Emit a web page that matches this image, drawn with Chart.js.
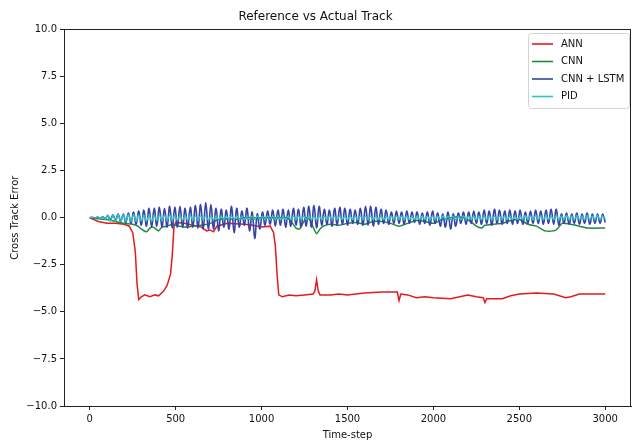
<!DOCTYPE html>
<html>
<head>
<meta charset="utf-8">
<script src="https://cdn.jsdelivr.net/npm/chart.js@4.4.1/dist/chart.umd.min.js"></script>
<style>
  html, body { margin: 0; padding: 0; background: #fff; }
  #wrap { width: 632px; height: 442px; }
</style>
</head>
<body>
<div id="wrap"><canvas id="trackChart" width="632" height="442"></canvas></div>
<script>
// values
const xTicks = [0, 500, 1000, 1500, 2000, 2500, 3000];
const yTicks = [-10, -7.5, -5, -2.5, 0, 2.5, 5, 7.5, 10];

const annSteps = [0,50,100,150,200,230,250,265,275,285,300,320,350,380,400,430,450,470,480,490,500,550,600,650,680,700,720,740,800,900,950,1000,1050,1070,1080,1090,1100,1120,1160,1200,1250,1300,1310,1320,1330,1340,1400,1450,1500,1600,1700,1790,1800,1810,1850,1900,1950,2000,2100,2200,2250,2290,2300,2310,2400,2450,2500,2600,2700,2770,2800,2850,2900,3000];
const annValues = [0,-0.2,-0.3,-0.3,-0.35,-0.45,-0.8,-1.8,-3.5,-4.35,-4.2,-4.1,-4.2,-4.1,-4.15,-3.9,-3.6,-3.0,-2.0,-0.5,-0.25,-0.3,-0.4,-0.5,-0.7,-0.65,-0.75,-0.45,-0.3,-0.35,-0.4,-0.5,-0.45,-0.8,-1.5,-3.0,-4.1,-4.2,-4.1,-4.15,-4.1,-4.05,-3.9,-3.3,-3.9,-4.1,-4.1,-4.05,-4.1,-4.0,-3.95,-3.95,-4.4,-4.05,-4.1,-4.25,-4.2,-4.25,-4.3,-4.1,-4.2,-4.25,-4.5,-4.3,-4.3,-4.15,-4.05,-4.0,-4.05,-4.25,-4.2,-4.05,-4.05,-4.05];

const cnnSteps = [0,100,150,200,250,280,300,330,350,370,400,420,450,480,500,550,600,650,700,750,800,850,900,1000,1100,1150,1180,1200,1220,1240,1260,1280,1300,1320,1340,1360,1400,1450,1500,1550,1600,1650,1700,1750,1800,1850,1900,1950,2000,2050,2100,2150,2200,2250,2280,2300,2350,2400,2450,2500,2550,2600,2650,2700,2720,2750,2800,2850,2900,3000];
const cnnValues = [0,-0.1,-0.2,-0.3,-0.35,-0.45,-0.6,-0.75,-0.55,-0.5,-0.7,-0.5,-0.45,-0.35,-0.4,-0.5,-0.45,-0.4,-0.3,-0.1,-0.05,-0.1,0,0,0,0,-0.3,-0.55,-0.6,-0.3,0,-0.1,-0.5,-0.85,-0.6,-0.45,-0.35,-0.4,-0.3,-0.25,-0.35,-0.2,-0.2,-0.3,-0.45,-0.3,-0.15,-0.2,-0.3,-0.1,0,0.05,-0.1,-0.45,-0.55,-0.4,-0.35,-0.3,-0.15,-0.1,-0.35,-0.45,-0.7,-0.7,-0.6,-0.3,-0.35,-0.45,-0.55,-0.55];

// CNN + LSTM and PID are sampled every 15 steps
const oscSteps = Array.from({ length: 201 }, (_, i) => i * 15);
const lstmValues = [
  0,0.02,-0.02,0.03,-0.03,0.05,-0.05,
  0.1,-0.1,0.15,-0.15,0.2,-0.2,0.2,-0.25,0.25,-0.3,0.3,-0.35,0.35,
  -0.4,0.4,-0.45,0.5,-0.5,0.5,-0.45,0.55,-0.5,0.5,-0.5,0.6,-0.55,0.55,-0.5,0.6,-0.5,0.5,-0.55,0.55,-0.5,0.65,-0.55,0.7,-0.6,0.8,-0.6,
  0.7,-0.6,0.5,-0.7,0.45,-0.5,0.4,-0.6,0.6,-0.8,0.5,-0.5,0.35,-0.4,0.5,-0.7,0.3,-1.1,0.2,-0.6,
  0.3,-0.4,0.35,-0.35,0.4,-0.45,0.4,-0.4,0.45,-0.5,0.4,-0.45,0.5,-0.4,
  0.45,-0.5,0.55,-0.45,0.6,-0.5,0.65,-0.55,0.6,-0.4,0.45,-0.35,0.4,-0.45,0.5,-0.4,0.55,-0.35,0.5,-0.4,
  0.45,-0.3,0.4,-0.35,0.5,-0.4,0.6,-0.4,0.6,-0.45,0.55,-0.35,0.45,-0.3,0.4,-0.35,0.3,-0.3,0.35,-0.3,
  0.3,-0.35,0.35,-0.3,0.3,-0.25,0.3,-0.35,0.25,-0.3,0.3,-0.4,0.35,-0.3,0.25,-0.45,0.2,-0.5,0.3,-0.6,
  0.2,-0.45,0.25,-0.3,0.3,-0.35,0.3,-0.3,0.35,-0.3,0.3,-0.35,0.4,-0.3,0.35,-0.4,0.45,-0.3,0.4,-0.35,
  0.35,-0.3,0.4,-0.35,0.35,-0.3,0.4,-0.35,0.3,-0.3,0.35,-0.3,0.4,-0.3,0.35,-0.35,0.4,-0.3,0.45,-0.35,
  0.45,-0.4,0.2,-0.3,0.25,-0.35,0.2,-0.3,0.25,-0.35,0.2,-0.3,0.25,-0.35,0.2,-0.3,0.2,-0.3,0.2,-0.25
];
const pidValues = [
  0,0.02,-0.02,0.03,-0.03,0.05,-0.08,
  0.15,-0.2,0.15,-0.2,0.18,-0.2,0.18,-0.2,0.18,-0.2,0.18,-0.2,0.15,
  -0.18,0.15,-0.18,0.14,-0.18,0.14,-0.16,0.14,-0.16,0.13,-0.15,0.13,-0.15,0.12,-0.14,0.12,-0.14,0.12,-0.14,0.12,-0.13,0.1,-0.13,0.1,-0.12,0.1,-0.12,
  0.08,-0.1,0.09,-0.1,0.08,-0.11,0.08,-0.1,0.08,-0.1,0.09,-0.1,0.08,-0.11,0.08,-0.1,0.08,-0.1,0.09,-0.1,
  0.08,-0.1,0.08,-0.11,0.08,-0.1,0.09,-0.1,0.08,-0.1,0.08,-0.11,0.08,-0.1,0.09,-0.1,0.08,-0.1,0.08,-0.1,
  0.08,-0.1,0.09,-0.1,0.08,-0.11,0.08,-0.1,0.08,-0.1,0.09,-0.1,0.08,-0.11,0.08,-0.1,0.08,-0.1,0.09,-0.1,
  0.08,-0.1,0.08,-0.11,0.08,-0.1,0.09,-0.1,0.08,-0.1,0.08,-0.11,0.08,-0.1,0.09,-0.1,0.08,-0.1,0.08,-0.1,
  0.08,-0.1,0.09,-0.1,0.08,-0.11,0.08,-0.1,0.08,-0.1,0.09,-0.1,0.08,-0.11,0.08,-0.1,0.08,-0.1,0.09,-0.1,
  0.08,-0.1,0.08,-0.11,0.08,-0.1,0.09,-0.1,0.08,-0.1,0.08,-0.11,0.08,-0.1,0.09,-0.1,0.08,-0.1,0.08,-0.1,
  0.1,-0.1,0.12,-0.1,0.1,-0.11,0.12,-0.1,0.1,-0.1,0.12,-0.1,0.1,-0.11,0.12,-0.1,0.1,-0.1,0.12,-0.1,
  0.1,-0.1,0.12,-0.1,0.1,-0.1,0.12,-0.1,0.1,-0.1,0.12,-0.1,0.1,-0.05
];

const toPoints = (steps, values) => steps.map((s, i) => ({ x: s, y: values[i] }));

const FONT = '"DejaVu Sans", "Liberation Sans", sans-serif';

// top/right spines, like matplotlib's frame
const frameBox = {
  id: 'frameBox',
  afterDraw(chart) {
    const { ctx, chartArea } = chart;
    ctx.save();
    ctx.strokeStyle = '#222';
    ctx.lineWidth = 1;
    ctx.strokeRect(Math.round(chartArea.left) + 0.5, Math.round(chartArea.top) + 0.5,
      Math.round(chartArea.right - chartArea.left) - 1, Math.round(chartArea.bottom - chartArea.top));
    ctx.restore();
  }
};

// legend drawn inside the plot, top right
const insideLegend = {
  id: 'insideLegend',
  afterDraw(chart) {
    const { ctx, chartArea } = chart;
    const boxW = 101, boxH = 75;
    const x0 = Math.round(chartArea.right) - boxW - 2;
    const y0 = Math.round(chartArea.top) + 4;
    ctx.save();
    ctx.fillStyle = 'rgba(255,255,255,0.85)';
    ctx.strokeStyle = '#d4d4d4';
    ctx.lineWidth = 1;
    ctx.beginPath();
    ctx.roundRect(x0 + 0.5, y0 + 0.5, boxW, boxH, 3);
    ctx.fill();
    ctx.stroke();
    ctx.font = '10px ' + FONT;
    ctx.textBaseline = 'middle';
    chart.data.datasets.forEach((ds, i) => {
      const y = y0 + 11 + i * 17.5;
      ctx.strokeStyle = ds.borderColor;
      ctx.lineWidth = 1.6;
      ctx.beginPath();
      ctx.moveTo(x0 + 4, y);
      ctx.lineTo(x0 + 25, y);
      ctx.stroke();
      ctx.fillStyle = '#111';
      ctx.fillText(ds.label, x0 + 33, y);
    });
    ctx.restore();
  }
};

const ctx = document.getElementById('trackChart');
new Chart(ctx, {
  type: 'line',
  data: {
    datasets: [
      { label: 'ANN', data: toPoints(annSteps, annValues), borderColor: '#e41a1c', borderWidth: 1.5, tension: 0, order: 3 },
      { label: 'CNN', data: toPoints(cnnSteps, cnnValues), borderColor: '#1e8a3c', borderWidth: 1.5, tension: 0.2, order: 2 },
      { label: 'CNN + LSTM', data: toPoints(oscSteps, lstmValues), borderColor: '#3544a6', borderWidth: 1.6, tension: 0.4, order: 1 },
      { label: 'PID', data: toPoints(oscSteps, pidValues), borderColor: '#2ec4c4', borderWidth: 1.3, tension: 0.4, order: 0 }
    ]
  },
  options: {
    responsive: false,
    animation: false,
    devicePixelRatio: 1,
    layout: { padding: { left: 0, right: 1, top: 0, bottom: 0 } },
    elements: { point: { radius: 0 } },
    plugins: {
      legend: { display: false },
      tooltip: { enabled: false },
      title: {
        display: true,
        text: 'Reference vs Actual Track',
        color: '#111',
        font: { family: FONT, size: 12, weight: 'normal' },
        padding: { top: 10, bottom: 5 }
      }
    },
    scales: {
      x: {
        type: 'linear',
        min: -150,
        max: 3150,
        afterBuildTicks: (scale) => { scale.ticks = xTicks.map(v => ({ value: v })); },
        afterFit: (scale) => { scale.height = 36; },
        grid: { drawOnChartArea: false, drawTicks: true, tickLength: 4, color: '#222' },
        border: { display: true, color: '#222', width: 1 },
        ticks: { color: '#111', padding: 3, maxRotation: 0, font: { family: FONT, size: 10 }, callback: (v) => String(v) },
        title: { display: true, text: 'Time-step', color: '#111', font: { family: FONT, size: 10 }, padding: { top: 0, bottom: 1 } }
      },
      y: {
        type: 'linear',
        min: -10,
        max: 10,
        afterBuildTicks: (scale) => { scale.ticks = yTicks.map(v => ({ value: v })); },
        afterFit: (scale) => { scale.width = 64; },
        grid: { drawOnChartArea: false, drawTicks: true, tickLength: 4, color: '#222' },
        border: { display: true, color: '#222', width: 1 },
        ticks: {
          color: '#111', padding: 3, font: { family: FONT, size: 10 },
          callback: (v) => v.toFixed(1).replace('-', '\u2212')
        },
        title: { display: true, text: 'Cross Track Error', color: '#111', font: { family: FONT, size: 10 }, padding: { top: 9, bottom: 0 } }
      }
    }
  },
  plugins: [frameBox, insideLegend]
});
</script>
</body>
</html>
